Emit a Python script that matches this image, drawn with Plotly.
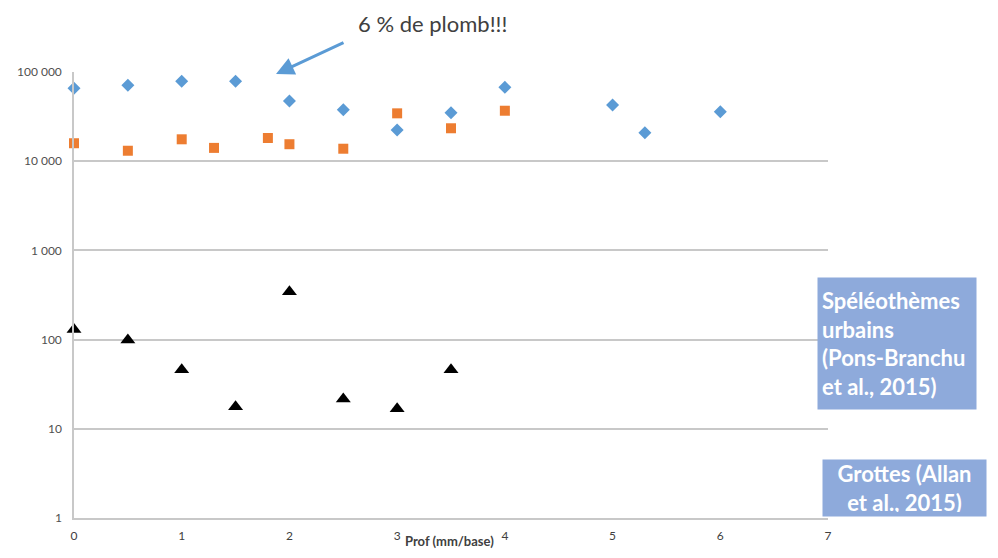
import plotly.graph_objects as go

# Data
x_urb = [0, 0.5, 1, 1.5, 2, 2.5, 3, 3.5, 4, 5, 5.3, 6]
y_urb = [65600, 71000, 79000, 79000, 47300, 37800, 22400, 35000, 67300, 42700, 20900, 35900]

x_urb2 = [0, 0.5, 1, 1.3, 1.8, 2, 2.5, 3, 3.5, 4]
y_urb2 = [15900, 13100, 17600, 14100, 18200, 15500, 13800, 34400, 23400, 36800]

x_grot = [0, 0.5, 1, 1.5, 2, 2.5, 3, 3.5]
y_grot = [130, 99, 46, 17.7, 344, 21.6, 16.8, 46]

y_tickvals = [1, 10, 100, 1000, 10000, 100000]
y_ticktext = ["1", "10", "100", "1 000", "10 000", "100 000"]
x_tickvals = [0, 1, 2, 3, 4, 5, 6, 7]

fig = go.Figure()
fig.add_trace(go.Scatter(x=x_urb, y=y_urb, mode="markers", cliponaxis=False,
                         marker=dict(symbol="diamond", size=10, color="#5b9bd5")))
fig.add_trace(go.Scatter(x=x_urb2, y=y_urb2, mode="markers", cliponaxis=False,
                         marker=dict(symbol="square", size=10, color="#ed7d31")))
fig.add_trace(go.Scatter(x=x_grot, y=y_grot, mode="markers", cliponaxis=False,
                         marker=dict(symbol="triangle-up", size=13, color="#000000")))

# the page adds an 8 px body margin, so the figure is 16 px smaller than the window
fig.update_layout(
    width=982, height=542,
    margin=dict(l=66, r=162, t=64, b=32, autoexpand=False),
    paper_bgcolor="white", plot_bgcolor="white",
    showlegend=False,
    font=dict(family="Lato, Open Sans, sans-serif", color="#595959", size=11),
    xaxis=dict(range=[0, 7], tickvals=x_tickvals, showgrid=False, zeroline=False,
               showline=True, linecolor="#c8c8c8", linewidth=1.5, ticks="",
               automargin=False,
               tickfont=dict(size=12, color="#404040"), ticklabelstandoff=6),
    yaxis=dict(type="log", range=[0, 5], tickvals=y_tickvals, ticktext=y_ticktext,
               showgrid=True, gridcolor="#c8c8c8", gridwidth=1.5, zeroline=False,
               showline=True, linecolor="#c8c8c8", linewidth=1.5, ticks="",
               automargin=False,
               tickfont=dict(size=12, color="#505050"), ticklabelstandoff=8),
)

# x-axis title, placed as in the reference (next to the "3" label)
fig.add_annotation(text="<b>Prof (mm/base)</b>", xref="paper", yref="paper",
                   x=(404 - 74) / 754, y=-(541 - 518) / 446, xanchor="left", yanchor="middle",
                   showarrow=False, borderpad=0, font=dict(size=13, color="#404040"))

# callout
fig.add_annotation(text="6 % de plomb!!!", xref="paper", yref="paper",
                   x=(432 - 74) / 754, y=(518 - 23) / 446, xanchor="center", yanchor="middle",
                   showarrow=False, borderpad=0,
                   font=dict(size=22, color="#404040", family="Lato, Open Sans, sans-serif"))
fig.add_annotation(x=(276 - 74) / 754, y=(518 - 74) / 446, xref="paper", yref="paper",
                   ax=69, ay=-32, axref="pixel", ayref="pixel",
                   text="", showarrow=True, arrowhead=2, arrowsize=1.2, arrowwidth=3,
                   arrowcolor="#5b9bd5")

# labelled boxes
fig.add_annotation(text="<b>Spéléothèmes<br>urbains<br>(Pons-Branchu<br>et al., 2015)</b>",
                   xref="paper", yref="paper", x=(817 - 74) / 754, y=(518 - 277) / 446,
                   xanchor="left", yanchor="top", showarrow=False, align="left",
                   width=150, height=123, bgcolor="#8eaadb", borderpad=4, valign="middle",
                   font=dict(size=22, color="white", family="Lato, Open Sans, sans-serif"))
fig.add_annotation(text="<b>Grottes (Allan<br>et al., 2015)</b>",
                   xref="paper", yref="paper", x=(822 - 74) / 754, y=(518 - 459) / 446,
                   xanchor="left", yanchor="top", showarrow=False, align="center",
                   width=155, height=48, bgcolor="#8eaadb", borderpad=4, valign="middle",
                   font=dict(size=22, color="white", family="Lato, Open Sans, sans-serif"))

fig.write_html("out.html")
